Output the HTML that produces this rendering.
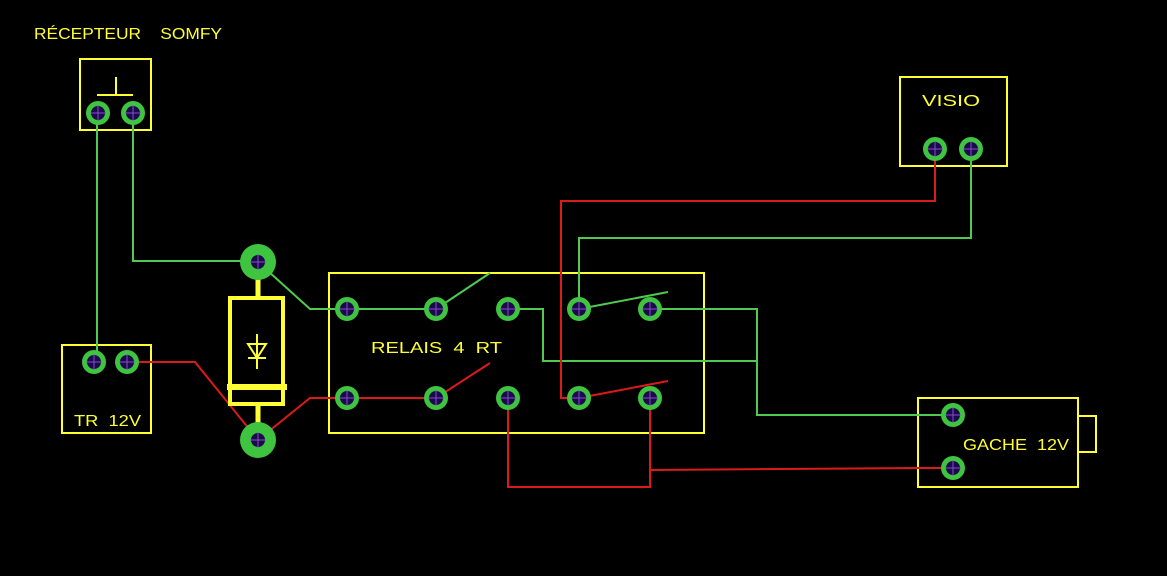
<!DOCTYPE html>
<html><head><meta charset="utf-8"><style>
html,body{margin:0;padding:0;background:#000;width:1167px;height:576px;overflow:hidden}
svg{display:block}
text{font-family:"Liberation Sans",sans-serif;fill:#ffff33;font-size:16px;white-space:pre}
</style></head><body>
<svg width="1167" height="576" viewBox="0 0 1167 576" xmlns="http://www.w3.org/2000/svg" xml:space="preserve">
<rect width="1167" height="576" fill="#000"/>
<g fill="none" stroke="#ffff33" stroke-width="2">
<rect x="80" y="59" width="71" height="71"/>
<rect x="62" y="345" width="89" height="88"/>
<rect x="329" y="273" width="375" height="160"/>
<rect x="900" y="77" width="107" height="89"/>
<rect x="918" y="398" width="160" height="89"/>
<polyline points="1078,416 1096,416 1096,452 1078,452"/>
<line x1="97" y1="95" x2="133" y2="95"/>
<line x1="116" y1="77" x2="116" y2="95"/>
</g>
<g fill="none" stroke="#4fc94f" stroke-width="2">
<polyline points="97,113 97,362"/>
<polyline points="133,113 133,261 258,261"/>
<polyline points="258,262 310,309 436,309"/>
<line x1="436" y1="309" x2="490" y2="273"/>
<polyline points="508,309 543,309 543,361 757,361"/>
<polyline points="650,309 757,309 757,415 953,415"/>
<polyline points="579,309 579,238 971,238 971,149"/>
<line x1="579" y1="309" x2="668" y2="292"/>
</g>
<g fill="none" stroke="#dd1a1a" stroke-width="2">
<polyline points="935,149 935,201 561,201 561,398 579,398"/>
<line x1="579" y1="398" x2="668" y2="381"/>
<line x1="436" y1="398" x2="490" y2="363"/>
<polyline points="258,440 310,398 436,398"/>
<polyline points="128,362 195,362 258,440"/>
<polyline points="508,398 508,487 650,487 650,398"/>
<polyline points="650,470 918,468 953,468"/>
</g>
<g stroke="#ffff33" fill="none">
<line x1="258" y1="262" x2="258" y2="297" stroke-width="5"/>
<line x1="258" y1="404" x2="258" y2="440" stroke-width="5"/>
<rect x="230" y="298" width="53" height="106" stroke-width="4"/>
<line x1="227" y1="387" x2="287" y2="387" stroke-width="6"/>
<polygon points="248,344 266,344 257,358" stroke-width="2"/>
<line x1="248" y1="358" x2="266" y2="358" stroke-width="2"/>
<line x1="257" y1="334" x2="257" y2="369" stroke-width="2"/>
</g>
<defs>
<g id="p"><circle r="12" fill="#3ec43e"/><circle r="7" fill="#1a0a4a"/><line x1="-8" x2="8" stroke="#8a4ad0" stroke-width="1"/><line y1="-8" y2="8" stroke="#8a4ad0" stroke-width="1"/></g>
<g id="b"><circle r="18" fill="#3ec43e"/><circle r="7" fill="#1a0a4a"/><line x1="-8" x2="8" stroke="#8a4ad0" stroke-width="1"/><line y1="-8" y2="8" stroke="#8a4ad0" stroke-width="1"/></g>
</defs>
<use href="#p" x="98" y="113"/><use href="#p" x="133" y="113"/>
<use href="#p" x="94" y="362"/><use href="#p" x="127" y="362"/>
<use href="#p" x="935" y="149"/><use href="#p" x="971" y="149"/>
<use href="#p" x="953" y="415"/><use href="#p" x="953" y="468"/>
<use href="#p" x="347" y="309"/><use href="#p" x="436" y="309"/><use href="#p" x="508" y="309"/><use href="#p" x="579" y="309"/><use href="#p" x="650" y="309"/>
<use href="#p" x="347" y="398"/><use href="#p" x="436" y="398"/><use href="#p" x="508" y="398"/><use href="#p" x="579" y="398"/><use href="#p" x="650" y="398"/>
<use href="#b" x="258" y="262"/><use href="#b" x="258" y="440"/>
<text x="34" y="39" textLength="188" lengthAdjust="spacingAndGlyphs">RÉCEPTEUR    SOMFY</text>
<text x="922" y="106" textLength="58" lengthAdjust="spacingAndGlyphs">VISIO</text>
<text x="371" y="353" textLength="131" lengthAdjust="spacingAndGlyphs">RELAIS  4  RT</text>
<text x="74" y="426" textLength="67" lengthAdjust="spacingAndGlyphs">TR  12V</text>
<text x="963" y="450" textLength="106" lengthAdjust="spacingAndGlyphs">GACHE  12V</text>
</svg>
</body></html>
